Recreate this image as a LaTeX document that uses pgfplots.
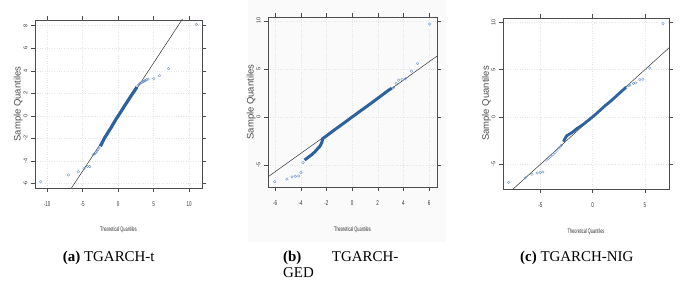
\documentclass[border=0pt]{standalone}
\usepackage{fontspec}
\setmainfont{Liberation Serif}
\newfontfamily\sans{Liberation Sans}
\usepackage{pgfplots}
\pgfplotsset{compat=1.18}
\definecolor{qqdark}{RGB}{45,98,158}
\definecolor{qqlight}{RGB}{105,145,200}
\pgfplotsset{qq/.style={
  scale only axis,
  axis line style={black!70, line width=0.6bp},
  tick align=outside, major tick length=4bp,
  tick style={black!70, line width=0.4bp},
  grid=major, major grid style={dotted, black!10, line width=0.4bp},
  /pgf/number format/assume math mode=true,
  xticklabel style={font=\sans\fontsize{7}{7}\selectfont, text=black!80, xscale=0.65, yshift=-6bp},
  yticklabel style={font=\sans\fontsize{5.5}{6}\selectfont, text=black!80, rotate=90, anchor=south},
  xlabel style={font=\sans\fontsize{6.5}{7}\selectfont, text=black!80, xscale=0.6, at={(axis description cs:0.5,-0.25)}, anchor=center},
  ylabel style={font=\sans\fontsize{9.5}{10}\selectfont, text=black!70, at={(axis description cs:-0.10,0.5)}, anchor=center},
  xlabel={Theoretical Quantiles}, ylabel={Sample Quantiles},
}}
\begin{document}
\begin{tikzpicture}
\path[use as bounding box] (0,0) rectangle (694bp,285bp);
\fill[black!2] (248bp,43bp) rectangle (446bp,285bp);
% ---------- (a) TGARCH-t
\begin{axis}[qq, at={(35bp,97bp)}, anchor=south west, width=167bp, height=168bp,
  xmin=-11.7, xmax=11.8, ymin=-6.4, ymax=8.5,
  xtick={-10,-5,0,5,10}, ytick={-6,-4,-2,0,2,4,6,8}]
\addplot[black!80, line width=0.5bp] coordinates {(-12,-11.62) (12,11.42)};
\addplot[qqdark, line width=3.2bp] coordinates {
(-2.5,-2.7) (-2.3,-2.45) (-2.1,-2.2) (-1.9,-1.95) (-1.7,-1.75) (-1.5,-1.55) (-1.3,-1.35) (-1.1,-1.15) (-0.9,-0.95) (-0.7,-0.72) (-0.5,-0.52) (-0.3,-0.3) (-0.1,-0.1) (0.1,0.08) (0.3,0.28) (0.5,0.48) (0.7,0.68) (0.9,0.88) (1.1,1.07) (1.3,1.27) (1.5,1.46) (1.7,1.66) (1.9,1.85) (2.1,2.04) (2.3,2.22) (2.5,2.42) (2.65,2.55)};
\addplot[only marks, mark=o, mark size=1.3bp, qqlight, line width=0.35bp] coordinates {
(-10.9,-5.84) (-7.0,-5.24) (-5.6,-4.95) (-4.8,-4.66) (-4.3,-4.5) (-4.0,-4.5) (-3.5,-3.45) (-3.3,-3.35) (-3.15,-3.25) (-3.0,-3.15) (-2.85,-3.0) (-2.7,-2.85)
(2.8,2.7) (2.95,2.8) (3.1,2.9) (3.25,2.95) (3.4,3.0) (3.55,3.05) (3.7,3.1) (3.85,3.15) (4.0,3.2) (4.2,3.25) (5.0,3.3) (5.8,3.56) (7.1,4.18) (11.0,8.1)};
\end{axis}
% ---------- (b) TGARCH-GED
\begin{axis}[qq, at={(268bp,98bp)}, anchor=south west, width=169bp, height=170bp,
  xmin=-6.55, xmax=6.62, ymin=-7.25, ymax=10.4,
  xtick={-6,-4,-2,0,2,4,6}, ytick={-5,0,5,10}]
\addplot[black!80, line width=0.5bp] coordinates {(-7,-6.62) (7,6.7)};
\addplot[qqdark, line width=3bp] coordinates {
(-3.7,-4.45) (-3.5,-4.25) (-3.3,-4.05) (-3.1,-3.85) (-2.9,-3.6) (-2.7,-3.3) (-2.55,-3.1) (-2.45,-2.9) (-2.35,-2.6) (-2.3,-2.25) (-2.1,-2.05) (-1.9,-1.85) (-1.7,-1.65) (-1.5,-1.45) (-1.3,-1.25) (-1.1,-1.06) (-0.9,-0.87) (-0.7,-0.67) (-0.5,-0.48) (-0.3,-0.28) (-0.1,-0.08) (0.1,0.11) (0.3,0.3) (0.5,0.5) (0.7,0.69) (0.9,0.88) (1.1,1.07) (1.3,1.27) (1.5,1.46) (1.7,1.66) (1.9,1.86) (2.1,2.06) (2.3,2.26) (2.5,2.45) (2.7,2.65) (2.9,2.85) (3.1,3.0)};
\addplot[only marks, mark=o, mark size=1.3bp, qqlight, line width=0.35bp] coordinates {
(-6.03,-6.7) (-5.07,-6.44) (-4.68,-6.2) (-4.42,-6.13) (-4.16,-6.1) (-3.98,-5.75) (-3.82,-4.71)
(3.24,3.08) (3.45,3.5) (3.63,3.85) (3.9,3.9) (4.15,3.98) (4.62,4.78) (5.11,5.58) (6.05,9.67)};
\end{axis}
% ---------- (c) TGARCH-NIG
\begin{axis}[qq, at={(503bp,96bp)}, anchor=south west, width=166bp, height=171bp,
  xmin=-8.57, xmax=7.3, ymin=-7.6, ymax=10.45,
  xtick={-5,0,5}, ytick={-5,0,5,10}]
\addplot[black!80, line width=0.5bp] coordinates {(-9,-9) (8,8)};
\addplot[qqdark, line width=2.8bp] coordinates {
(-2.8,-2.6) (-2.6,-2.2) (-2.45,-1.95) (-2.2,-1.8) (-2.0,-1.65) (-1.8,-1.5) (-1.6,-1.3) (-1.4,-1.15) (-1.2,-1.0) (-1.0,-0.85) (-0.8,-0.7) (-0.6,-0.5) (-0.4,-0.35) (-0.2,-0.15) (0,0.02) (0.2,0.2) (0.4,0.4) (0.6,0.6) (0.8,0.8) (1.0,1.0) (1.2,1.2) (1.4,1.38) (1.6,1.56) (1.8,1.75) (2.0,1.95) (2.2,2.15) (2.4,2.35) (2.6,2.55) (2.8,2.75) (3.0,2.95) (3.2,3.15)};
\addplot[only marks, mark=o, mark size=1.3bp, qqlight, line width=0.35bp] coordinates {
(-8.04,-6.9) (-6.45,-6.43) (-5.8,-6.04) (-5.3,-5.9) (-5.0,-5.85) (-4.76,-5.8) (-4.45,-4.55) (-4.23,-4.38) (-4.0,-4.15) (-3.8,-3.95) (-3.6,-3.75) (-3.4,-3.5) (-3.2,-3.25) (-3.0,-3.0)
(3.4,3.3) (3.56,3.35) (3.9,3.53) (4.1,3.6) (4.5,3.95) (4.8,4.0) (5.46,5.16) (6.73,9.85)};
\end{axis}
% ---------- captions
\begin{scope}[font=\fontsize{15}{18}\selectfont]
\node[anchor=base west, inner sep=0pt] at (62.7bp,23.3bp) {\textbf{(a)} TGARCH-t};
\node[anchor=base west, inner sep=0pt] at (283bp,23.3bp) {\textbf{(b)}};
\node[anchor=base west, inner sep=0pt] at (331.7bp,23.3bp) {TGARCH-};
\node[anchor=base west, inner sep=0pt] at (283bp,7.3bp) {GED};
\node[anchor=base west, inner sep=0pt] at (520bp,23.3bp) {\textbf{(c)} TGARCH-NIG};
\end{scope}
\end{tikzpicture}
\end{document}
